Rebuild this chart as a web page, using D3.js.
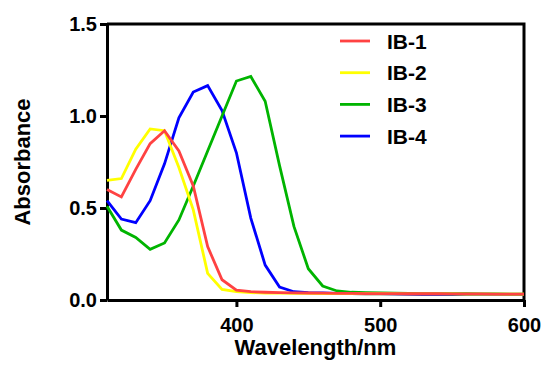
<!DOCTYPE html>
<html lang="en">
<head>
  <meta charset="UTF-8">
  <title>Absorbance spectra</title>
  <script src="https://d3js.org/d3.v7.min.js"></script>
  <style>
    body { margin: 0; background: #fff; }
    svg text { font-family: "Liberation Sans", Arial, sans-serif; font-weight: bold; fill: #000; }
  </style>
</head>
<body>
  <script>
    const width = 542;
    const height = 365;

    // wavelengths sampled every 10 nm
    const wavelengths = d3.range(310, 601, 10);
    const seriesNames = ['IB-1', 'IB-2', 'IB-3', 'IB-4'];
    const seriesColors = ['#ff4242', '#ffff00', '#00b400', '#0000ff'];

    const ib1 = [0.60, 0.56, 0.71, 0.85, 0.92, 0.81, 0.62, 0.29, 0.11, 0.054, 0.045, 0.042, 0.040, 0.039, 0.038, 0.037,
                 0.036, 0.036, 0.035, 0.035, 0.035, 0.034, 0.034, 0.034, 0.033, 0.033, 0.033, 0.032, 0.032, 0.032];
    const ib2 = [0.65, 0.66, 0.82, 0.93, 0.92, 0.72, 0.49, 0.145, 0.058, 0.045, 0.040, 0.038, 0.037, 0.036, 0.036, 0.035,
                 0.035, 0.035, 0.034, 0.034, 0.034, 0.033, 0.033, 0.033, 0.033, 0.032, 0.032, 0.032, 0.032, 0.032];
    const ib3 = [0.51, 0.38, 0.34, 0.275, 0.31, 0.435, 0.62, 0.81, 1.00, 1.19, 1.215, 1.08, 0.73, 0.40, 0.17, 0.076,
                 0.049, 0.042, 0.040, 0.038, 0.037, 0.036, 0.035, 0.035, 0.034, 0.034, 0.033, 0.033, 0.032, 0.032];
    const ib4 = [0.54, 0.44, 0.42, 0.54, 0.74, 0.99, 1.13, 1.165, 1.03, 0.80, 0.445, 0.19, 0.07, 0.045, 0.040, 0.038,
                 0.036, 0.035, 0.034, 0.033, 0.032, 0.031, 0.030, 0.030, 0.030, 0.031, 0.031, 0.031, 0.031, 0.031];
    const seriesValues = [ib1, ib2, ib3, ib4];

    const xTicks = [400, 500, 600];
    const yTicks = [0, 0.5, 1.0, 1.5];

    const margin = { top: 24, right: 18, bottom: 65, left: 107 };

    const svg = d3.select('body').append('svg')
      .attr('width', width)
      .attr('height', height);

    const x = d3.scaleLinear().domain([310, 600]).range([margin.left, width - margin.right]);
    const y = d3.scaleLinear().domain([0, 1.5]).range([height - margin.bottom, margin.top]);

    // frame on top and right
    svg.append('path')
      .attr('d', `M${x(310)},${y(1.5)}H${x(600)}V${y(0)}`)
      .attr('fill', 'none')
      .attr('stroke', '#000')
      .attr('stroke-width', 3);

    const xAxis = svg.append('g')
      .attr('transform', `translate(0,${y(0)})`)
      .call(d3.axisBottom(x).tickValues(xTicks).tickSize(7).tickPadding(11).tickSizeOuter(0));

    const yAxis = svg.append('g')
      .attr('transform', `translate(${x(310)},0)`)
      .call(d3.axisLeft(y).tickValues(yTicks).tickFormat(d3.format('.1f')).tickSize(7).tickPadding(3).tickSizeOuter(0));

    [xAxis, yAxis].forEach(g => {
      g.select('.domain').attr('stroke-width', 3);
      g.selectAll('.tick line').attr('stroke-width', 3);
      g.selectAll('.tick text').attr('font-size', 20);
    });

    const line = d3.line()
      .x((d, i) => x(wavelengths[i]))
      .y(d => y(d));

    // draw in reverse so IB-1 sits on top
    seriesValues.map((vals, i) => ({ vals, i })).reverse().forEach(s => {
      svg.append('path')
        .datum(s.vals)
        .attr('d', line)
        .attr('fill', 'none')
        .attr('stroke', seriesColors[s.i])
        .attr('stroke-width', 2.8)
        .attr('stroke-linejoin', 'miter');
    });

    // legend
    const legend = svg.append('g').attr('transform', 'translate(340,41)');
    seriesNames.forEach((name, i) => {
      const row = legend.append('g').attr('transform', `translate(0,${i * 31.7})`);
      row.append('line')
        .attr('x1', 0).attr('x2', 30)
        .attr('stroke', seriesColors[i])
        .attr('stroke-width', 2.8);
      row.append('text')
        .attr('x', 47)
        .attr('dy', '0.36em')
        .attr('font-size', 21)
        .text(name);
    });

    // axis titles
    svg.append('text')
      .attr('x', (x(310) + x(600)) / 2)
      .attr('y', 355)
      .attr('text-anchor', 'middle')
      .attr('font-size', 22)
      .text('Wavelength/nm');

    svg.append('text')
      .attr('transform', `translate(29.5,${(y(0) + y(1.5)) / 2}) rotate(-90)`)
      .attr('text-anchor', 'middle')
      .attr('font-size', 22)
      .text('Absorbance');
  </script>
</body>
</html>
